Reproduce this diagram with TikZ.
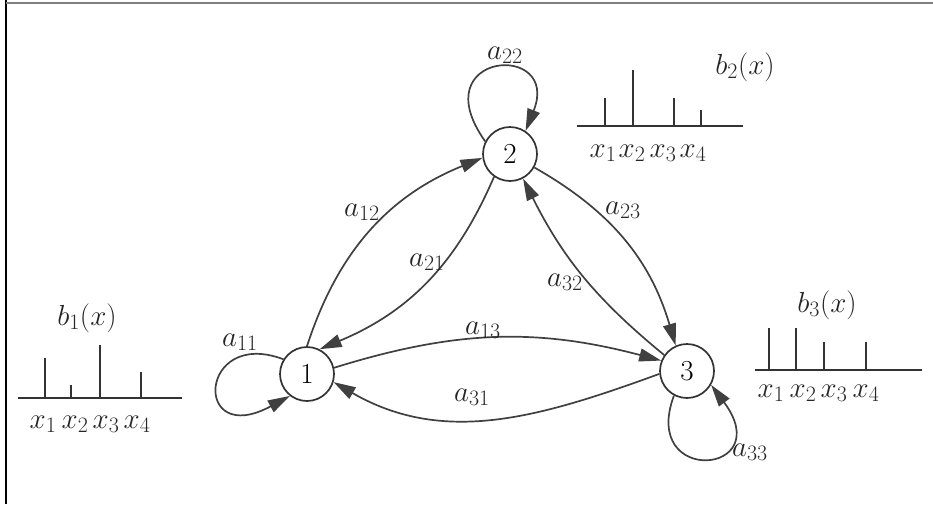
\RequirePackage{fix-cm}
\documentclass[tikz,border=0pt]{standalone}
\usetikzlibrary{arrows.meta}
\DeclareMathSizes{29}{29}{22}{17}
\begin{document}
\begin{tikzpicture}[x=1pt,y=1pt,
  font=\fontsize{29}{34}\selectfont,
  state/.style={circle,draw=black!80,line width=1.7pt,minimum size=54pt,inner sep=0pt},
  conn/.style={draw=black!75,line width=1.7pt,-{Triangle[length=22pt,width=13pt]}},
  lab/.style={inner sep=0pt,text=black!85},
  stem/.style={draw=black!80,line width=1.5pt},
  axis/.style={draw=black!80,line width=1.8pt}]
\useasboundingbox (0,0) rectangle (933,-504);
% frame
\draw[black,line width=2pt] (6,0) -- (6,-504);
\draw[black!50,line width=1.5pt] (6,-3) -- (933,-3);

% states
\node[state] (n1) at (307,-374) {1};
\node[state] (n2) at (510,-154) {2};
\node[state] (n3) at (687,-371) {3};

% self loops
\draw[conn] (n1.148) .. controls +(-85,32) and +(-98,-53) .. (n1.232);
\draw[conn] (n2.153) .. controls +(-64,90) and +(36,90) .. (n2.56);
\draw[conn] (n3.242) .. controls +(-34,-91) and +(67,-90) .. (n3.330);

% transitions
\draw[conn] (n1.90) to[bend left=25] (n2.188);
\draw[conn] (n2.235) to[bend left=22] (n1.63);
\draw[conn] (n1.13) to[bend left=16] (n3.158);
\draw[conn] (n3.186) to[out=200,in=-30] (n1.343);
\draw[conn] (n2.331) to[bend left=22] (n3.114);
\draw[conn] (n3.145) to[bend left=12] (n2.298);

% transition labels
\node[lab] (l11) at (240,-342) {$a_{11}$};
\node[lab] (l22) at (505,-55) {$a_{22}$};
\node[lab] (l33) at (750,-452) {$a_{33}$};
\node[lab] (l12) at (362,-212) {$a_{12}$};
\node[lab] (l21) at (427,-262) {$a_{21}$};
\node[lab] (l13) at (483,-330) {$a_{13}$};
\node[lab] (l31) at (472,-397) {$a_{31}$};
\node[lab] (l23) at (623,-210) {$a_{23}$};
\node[lab] (l32) at (565,-282) {$a_{32}$};

% b1
\draw[axis] (18,-398) -- (182,-398);
\draw[stem] (45,-398) -- ++(0,40);
\draw[stem] (71,-398) -- ++(0,13);
\draw[stem] (100,-398) -- ++(0,53);
\draw[stem] (141,-398) -- ++(0,26);
\node[lab] (b1) at (87,-318) {$b_1(x)$};
\node[lab] (b1x1) at (43,-424) {$x_1$};
\node[lab] (b1x2) at (75,-424) {$x_2$};
\node[lab] (b1x3) at (106,-424) {$x_3$};
\node[lab] (b1x4) at (137,-424) {$x_4$};

% b2
\draw[axis] (577,-126) -- (743,-126);
\draw[stem] (605,-126) -- ++(0,28);
\draw[stem] (633,-126) -- ++(0,56);
\draw[stem] (674,-126) -- ++(0,28);
\draw[stem] (701,-126) -- ++(0,16);
\node[lab] (b2) at (745,-67) {$b_2(x)$};
\node[lab] (b2x1) at (603,-153) {$x_1$};
\node[lab] (b2x2) at (632,-153) {$x_2$};
\node[lab] (b2x3) at (663,-153) {$x_3$};
\node[lab] (b2x4) at (693,-153) {$x_4$};

% b3
\draw[axis] (755,-370) -- (922,-370);
\draw[stem] (769,-370) -- ++(0,42);
\draw[stem] (796,-370) -- ++(0,42);
\draw[stem] (824,-370) -- ++(0,28);
\draw[stem] (866,-370) -- ++(0,28);
\node[lab] (b3) at (827,-305) {$b_3(x)$};
\node[lab] (b3x1) at (771,-393) {$x_1$};
\node[lab] (b3x2) at (803,-393) {$x_2$};
\node[lab] (b3x3) at (834,-393) {$x_3$};
\node[lab] (b3x4) at (866,-393) {$x_4$};
\end{tikzpicture}
\end{document}
